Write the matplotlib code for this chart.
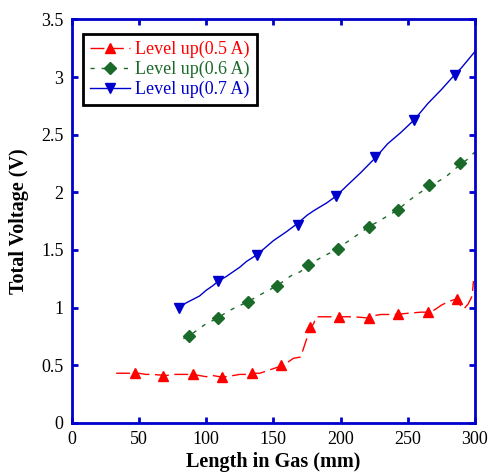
import numpy as np
import matplotlib
matplotlib.use("Agg")
import matplotlib.pyplot as plt
from matplotlib.lines import Line2D
from matplotlib.ticker import FuncFormatter

plt.rcParams['font.family'] = ['Liberation Serif', 'DejaVu Serif']

# traced curves (length in gas, total voltage)
red_x = [33, 37, 45, 50, 55, 60, 65, 70, 75, 80, 85, 90, 95, 100, 105, 110, 115, 120,
         125, 130, 135, 140, 145, 150, 155, 160, 165, 170, 172, 174, 176, 178, 180, 182,
         185, 190, 200, 210, 220, 225, 230, 240, 250, 260, 265, 270, 275, 280, 285, 288,
         290, 292, 295, 298, 299]
red_y = [0.43, 0.43, 0.43, 0.43, 0.42, 0.42, 0.415, 0.41, 0.42, 0.42, 0.42, 0.42, 0.41,
         0.40, 0.41, 0.40, 0.40, 0.41, 0.42, 0.42, 0.43, 0.43, 0.45, 0.47, 0.49, 0.52,
         0.56, 0.57, 0.63, 0.70, 0.77, 0.83, 0.86, 0.92, 0.92, 0.92, 0.92, 0.92, 0.91,
         0.93, 0.94, 0.94, 0.95, 0.96, 0.96, 0.98, 1.02, 1.05, 1.07, 1.05, 1.00, 0.99,
         1.03, 1.10, 1.23]
red_mx = [47, 68, 90, 112, 134, 156, 177, 199, 221, 243, 265, 287]
red_my = [0.43, 0.41, 0.42, 0.40, 0.43, 0.50, 0.83, 0.92, 0.91, 0.94, 0.96, 1.07]

green_x = [83, 87, 95, 100, 109, 115, 120, 131, 140, 153, 160, 165, 170, 176, 185, 198,
           205, 210, 221, 230, 243, 250, 257, 266, 275, 280, 289, 295, 300]
green_y = [0.73, 0.75, 0.82, 0.86, 0.91, 0.96, 0.99, 1.05, 1.11, 1.19, 1.25, 1.29, 1.31,
           1.37, 1.43, 1.51, 1.57, 1.61, 1.70, 1.76, 1.85, 1.92, 1.98, 2.05, 2.11, 2.15,
           2.24, 2.29, 2.35]
green_mx = [87, 109, 131, 153, 176, 198, 221, 243, 266, 289]
green_my = [0.75, 0.91, 1.05, 1.19, 1.37, 1.51, 1.70, 1.85, 2.06, 2.25]

blue_x = [79, 85, 90, 95, 100, 105, 109, 115, 120, 125, 130, 138, 145, 150, 155, 160, 168,
          175, 180, 190, 197, 205, 215, 226, 235, 245, 255, 265, 275, 285, 290, 300]
blue_y = [0.99, 1.04, 1.07, 1.10, 1.15, 1.19, 1.23, 1.27, 1.31, 1.35, 1.40, 1.46, 1.53,
          1.58, 1.62, 1.66, 1.73, 1.80, 1.84, 1.91, 1.97, 2.06, 2.17, 2.30, 2.42, 2.52,
          2.63, 2.77, 2.89, 3.02, 3.08, 3.22]
blue_mx = [80, 109, 138, 168, 197, 226, 255, 285]
blue_my = [1.00, 1.23, 1.46, 1.72, 1.97, 2.31, 2.63, 3.02]

labels = ['Level up(0.5 A)', 'Level up(0.6 A)', 'Level up(0.7 A)']
red = '#ff0000'
green = '#1a6b2a'
blue = '#0000cc'

fig = plt.figure(figsize=(4.89, 4.74), dpi=100)
ax = fig.add_axes([0.147, 0.108, 0.824, 0.851])

ax.plot(red_x, red_y, color=red, lw=1.0, dashes=(10, 4))
ax.plot(red_mx, red_my, ls='none', marker='^', ms=7, color=red)
ax.plot(green_x, green_y, color=green, lw=1.0, dashes=(3, 5))
ax.plot(green_mx, green_my, ls='none', marker='D', ms=6, color=green)
ax.plot(blue_x, blue_y, color=blue, lw=1.0)
ax.plot(blue_mx, blue_my, ls='none', marker='v', ms=7, color=blue)

ax.set_xlim(0, 300)
ax.set_ylim(0, 3.5)
ax.set_xticks(np.arange(0, 301, 50))
ax.set_yticks(np.arange(0, 3.51, 0.5))
ax.yaxis.set_major_formatter(FuncFormatter(lambda v, p: '%g' % v))
ax.tick_params(direction='in', length=4.5, width=2, color=blue, labelsize=13,
               top=True, right=True, pad=6)
for s in ax.spines.values():
    s.set_color(blue)
    s.set_linewidth(2)

ax.set_xlabel('Length in Gas (mm)', fontsize=14.5, fontweight='bold', labelpad=3)
ax.set_ylabel('Total Voltage (V)', fontsize=14.5, fontweight='bold', labelpad=9)

handles = [
    Line2D([], [], color=red, lw=1.0, marker='^', ms=7, dashes=(10, 4)),
    Line2D([], [], color=green, lw=1.0, marker='D', ms=6, dashes=(3, 5)),
    Line2D([], [], color=blue, lw=1.0, marker='v', ms=7),
]
leg = ax.legend(handles, labels, loc='upper left', bbox_to_anchor=(0.027, 0.965),
                borderaxespad=0, fontsize=13, handlelength=2.2, handletextpad=0.3,
                labelspacing=0.15, borderpad=0.4, fancybox=False, framealpha=1)
leg.get_frame().set_edgecolor('black')
leg.get_frame().set_linewidth(2)
for t, c in zip(leg.get_texts(), [red, green, blue]):
    t.set_color(c)

fig.savefig('out.png', dpi=100)
